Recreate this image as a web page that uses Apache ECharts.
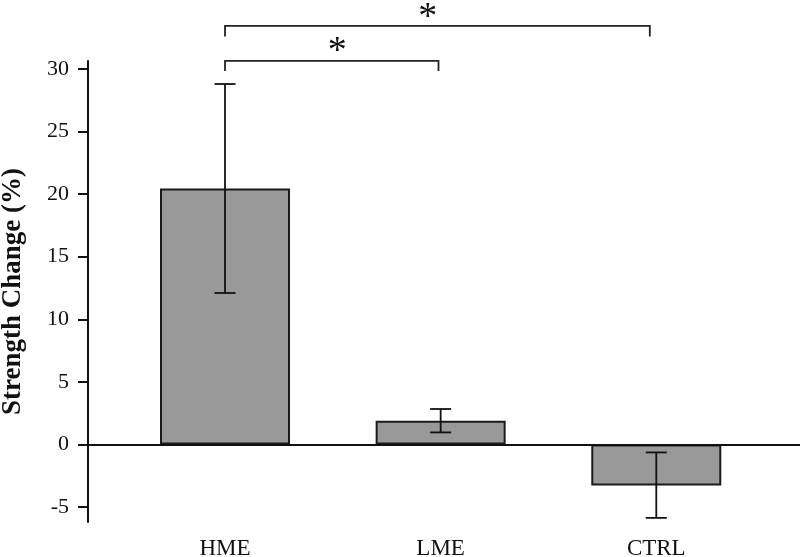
<!DOCTYPE html>
<html>
<head>
<meta charset="utf-8">
<script src="https://cdn.jsdelivr.net/npm/echarts@6/dist/echarts.min.js"></script>
<style>html,body{margin:0;padding:0;background:#fff}#c{width:800px;height:557px}</style>
</head>
<body>
<div id="c"></div>
<script>
// ---- data ----
const categories = ['HME', 'LME', 'CTRL'];
const means = [20.45, 1.9, -3.28];
const errLow = [12.1, 0.96, -5.87];
const errHigh = [28.8, 2.83, -0.64];
const yTicks = [-5, 0, 5, 10, 15, 20, 25, 30];
// significance brackets: [xFrom, xTo, yBar, yFoot]
const brackets = [
  [0, 1.97, 33.45, 32.6],
  [0, 0.99, 30.65, 29.85]
];
// asterisk labels: [x, y, text]
const stars = [
  [0.94, 34.6, '*'],
  [0.52, 31.95, '*']
];

const FONT = '"Liberation Serif", "Times New Roman", serif';
const chart = echarts.init(document.getElementById('c'), null, {renderer: 'canvas'});

const barData = categories.map((c, i) => [i, means[i]]);
const errData = categories.map((c, i) => [i, errLow[i], errHigh[i]]);

chart.setOption({
  animation: false,
  backgroundColor: '#fff',
  grid: {left: 88, right: 0, top: 61, bottom: 35, containLabel: false, outerBoundsMode: 'none'},
  xAxis: {
    type: 'value', min: -0.6354, max: 2.6665,
    splitLine: {show: false},
    axisLine: {show: false},
    axisTick: {show: false},
    axisLabel: {
      customValues: [0, 1, 2],
      formatter: v => categories[Math.round(v)],
      fontFamily: FONT, fontSize: 23, color: '#111', margin: 15
    }
  },
  yAxis: {
    type: 'value', min: -6.2, max: 30.64,
    name: 'Strength Change (%)',
    nameLocation: 'middle', nameGap: 61, nameRotate: 90, nameMoveOverlap: false,
    nameTextStyle: {fontFamily: FONT, fontSize: 27, fontWeight: 'bold', color: '#111'},
    splitLine: {show: false},
    axisLine: {show: true, onZero: false, lineStyle: {color: '#111', width: 2}},
    axisTick: {show: true, customValues: yTicks, length: 10, lineStyle: {color: '#111', width: 2}},
    axisLabel: {customValues: yTicks, fontFamily: FONT, fontSize: 22, color: '#111', margin: 19}
  },
  series: [
    {
      type: 'bar',
      data: barData,
      barWidth: 130,
      itemStyle: {color: '#999999', borderColor: '#1a1a1a', borderWidth: 2},
      markLine: {
        silent: true, symbol: 'none', label: {show: false},
        lineStyle: {color: '#111', width: 2, type: 'solid'},
        data: [{yAxis: 0}]
      },
      z: 2
    },
    {
      type: 'custom',
      data: errData,
      z: 5,
      renderItem: function (params, api) {
        const x = api.value(0);
        const lo = api.coord([x, api.value(1)]);
        const hi = api.coord([x, api.value(2)]);
        const hw = 10.5;
        const st = {stroke: '#111', lineWidth: 1.8};
        return {type: 'group', children: [
          {type: 'line', shape: {x1: lo[0], y1: lo[1], x2: hi[0], y2: hi[1]}, style: st},
          {type: 'line', shape: {x1: lo[0] - hw, y1: lo[1], x2: lo[0] + hw, y2: lo[1]}, style: st},
          {type: 'line', shape: {x1: hi[0] - hw, y1: hi[1], x2: hi[0] + hw, y2: hi[1]}, style: st}
        ]};
      }
    },
    {
      type: 'custom',
      data: brackets,
      clip: false,
      z: 5,
      renderItem: function (params, api) {
        const a = api.coord([api.value(0), api.value(2)]);
        const b = api.coord([api.value(1), api.value(2)]);
        const fa = api.coord([api.value(0), api.value(3)]);
        const fb = api.coord([api.value(1), api.value(3)]);
        return {type: 'polyline', shape: {points: [fa, a, b, fb]},
          style: {stroke: '#222', lineWidth: 1.8, fill: null}};
      }
    },
    {
      type: 'custom',
      data: stars,
      clip: false,
      z: 5,
      renderItem: function (params, api) {
        const p = api.coord([api.value(0), api.value(1)]);
        return {type: 'text', x: p[0], y: p[1] + 7,
          style: {text: stars[params.dataIndex][2], fontFamily: FONT, fontSize: 38,
            fill: '#111', align: 'center', verticalAlign: 'middle'}};
      }
    }
  ]
});
</script>
</body>
</html>
